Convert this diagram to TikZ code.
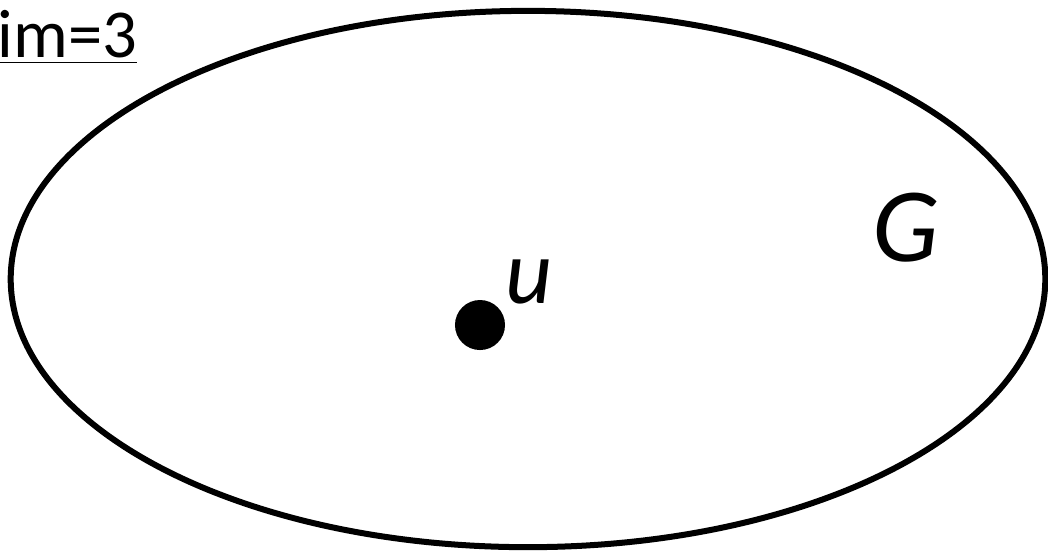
\documentclass[tikz,border=0pt]{standalone}
\usepackage{fontspec}
\setmainfont{Carlito}
\usetikzlibrary{shapes.geometric, positioning}

\begin{document}
\begin{tikzpicture}[
    x=0.01cm, y=-0.01cm,
    region/.style={ellipse, draw, line width=0.06cm, minimum width=10.34cm, minimum height=5.36cm, inner sep=0pt},
    vertex/.style={circle, fill=black, minimum size=0.5cm, inner sep=0pt},
    vname/.style={inner sep=0pt, font=\itshape\fontsize{26}{30}\selectfont},
    gname/.style={inner sep=0pt, font=\itshape\fontsize{30}{34}\selectfont},
    dimtext/.style={inner sep=0pt, font=\fontsize{19.5}{23}\selectfont}
]
    \useasboundingbox (0,0) rectangle (1048,553);

    % the graph
    \node[region] (graph) at (528,279) {};
    \node[gname] (glabel) at (906,228) {G};

    % vertex u
    \node[vertex] (u) at (480,325) {};
    \node[vname, anchor=base west] (ulabel) at (505,303) {u};

    % dimension
    \node[dimtext, anchor=base west] (dim) at (-3,57) {\underline{im=3}};
\end{tikzpicture}
\end{document}
